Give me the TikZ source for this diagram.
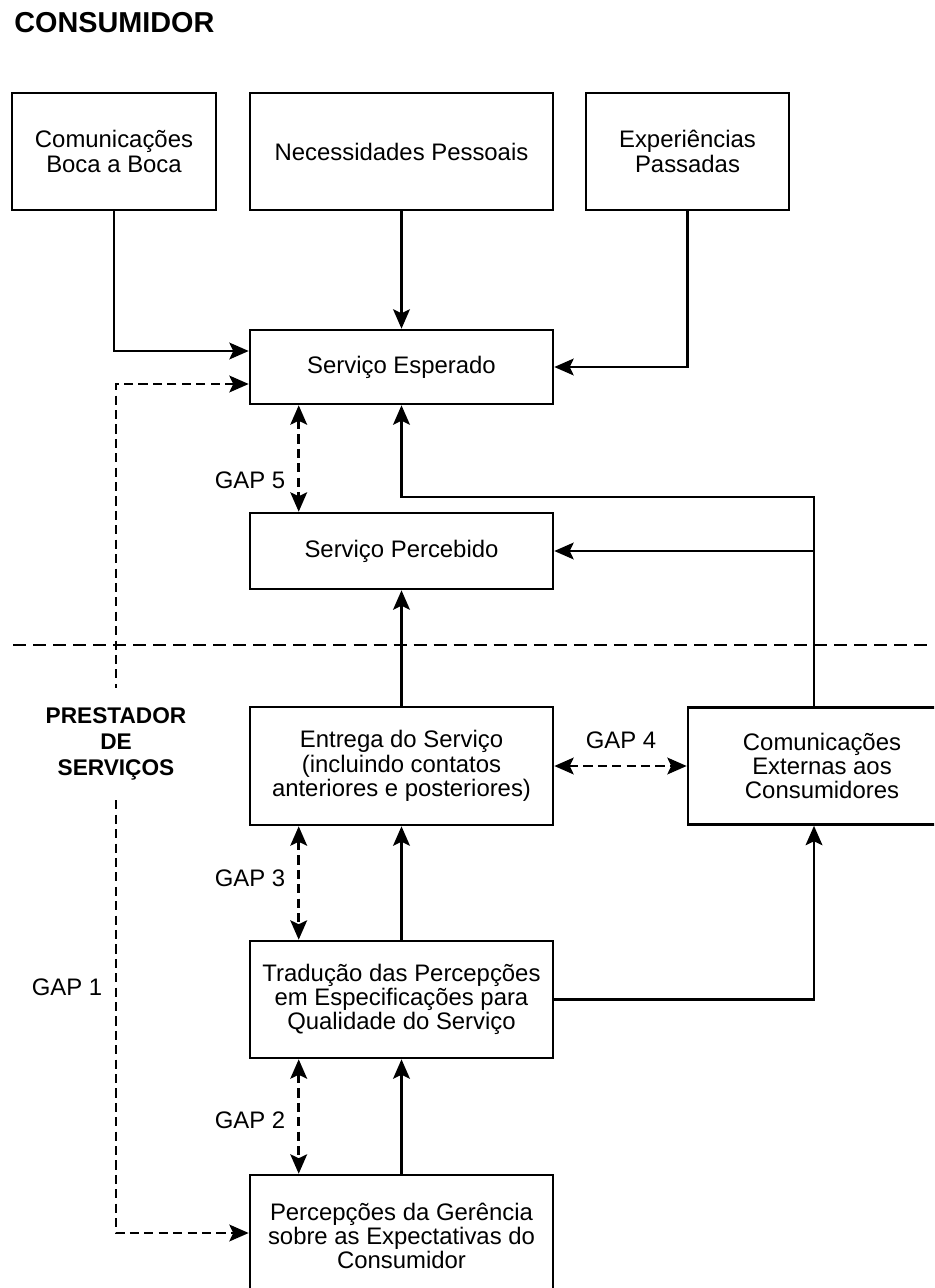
\documentclass[tikz,border=0pt]{standalone}
\usepackage{fontspec}
\setmainfont{Liberation Sans}
\usetikzlibrary{arrows.meta,calc}

\begin{document}
\begin{tikzpicture}[x=0.02cm,y=-0.02cm,line width=1.5pt,
  >={Stealth[length=11pt,width=9.5pt,inset=2.2pt]},
  box/.style={draw,line width=1.5pt,inner sep=2pt,align=center,font=\fontsize{13.6}{13.8}\selectfont},
  gapln/.style={dash pattern=on 5.2pt off 3pt},
  lbl/.style={font=\fontsize{13.6}{13.8}\selectfont}]
\clip (0,0) rectangle (934,1288);
\node[anchor=west,inner sep=0pt,font=\bfseries\fontsize{16.4}{18}\selectfont] (titulo) at (13,23) {CONSUMIDOR};
% consumidor
\node[box,minimum width=4.08cm,minimum height=2.34cm] (boca) at (114,151.5) {Comunicações\\Boca a Boca};
\node[box,minimum width=6.06cm,minimum height=2.34cm] (nec) at (401.5,151.5) {Necessidades Pessoais};
\node[box,minimum width=4.06cm,minimum height=2.34cm] (exp) at (687.5,151.5) {Experiências\\Passadas};
\node[box,minimum width=6.06cm,minimum height=1.48cm] (esp) at (401.5,367) {Serviço Esperado};
\node[box,minimum width=6.06cm,minimum height=1.52cm] (perc) at (401.5,551) {Serviço Percebido};
% prestador
\node[box,minimum width=6.06cm,minimum height=2.36cm] (entr) at (401.5,766) {Entrega do Serviço\\(incluindo contatos\\anteriores e posteriores)};
\node[box,minimum width=5.36cm,minimum height=2.34cm] (comext) at (822,766) {Comunicações\\Externas aos\\Consumidores};
\node[box,minimum width=6.06cm,minimum height=2.34cm] (trad) at (401.5,999.5) {Tradução das Percepções\\em Especificações para\\Qualidade do Serviço};
\node[box,minimum width=6.06cm,minimum height=2.44cm] (ger) at (401.5,1236) {Percepções da Gerência\\sobre as Expectativas do\\Consumidor};
\node[align=center,inner sep=0pt,minimum height=2.2cm,font=\bfseries\fontsize{12.9}{14.7}\selectfont] (prest) at (116,744) {PRESTADOR\\DE\\SERVIÇOS};
\draw[->] (boca.south) |- ($(esp.west)+(0,-16)$);
\draw[->] (nec) -- (esp);
\draw[->] (exp.south) |- (esp.east);
\draw[gapln,<-] ($(esp.west)+(0,17)$) -| (prest.north);
\draw[gapln,->] (prest.south) |- ($(ger.west)+(0,-3)$);
\draw[gapln,<->] ($(esp.south west)+(50,0)$) -- ($(perc.north west)+(50,0)$);
\node[lbl] (gap5) at (250,480) {GAP 5};
\coordinate (tee) at (814,497);
\draw[->] (comext.north -| tee) -- (tee) -| (esp.south);
\draw[->] (tee |- perc.east) -- (perc.east);
\draw[->] (entr) -- (perc);
\draw[gapln,<->] (entr.east) -- (comext.west);
\node[lbl] (gap4) at (621,740) {GAP 4};
\draw[gapln,<->] ($(entr.south west)+(50,0)$) -- ($(trad.north west)+(50,0)$);
\node[lbl] (gap3) at (250,878) {GAP 3};
\draw[->] (trad) -- (entr);
\draw[->] (trad.east) -| (comext.south -| tee);
\draw[gapln,<->] ($(trad.south west)+(50,0)$) -- ($(ger.north west)+(50,0)$);
\node[lbl] (gap2) at (250,1120) {GAP 2};
\draw[->] (ger) -- (trad);
\node[lbl] (gap1) at (67,987) {GAP 1};
% linha divisoria
\draw[dash pattern=on 7.4pt off 4pt] (13,645) -- (934,645);
\end{tikzpicture}
\end{document}
